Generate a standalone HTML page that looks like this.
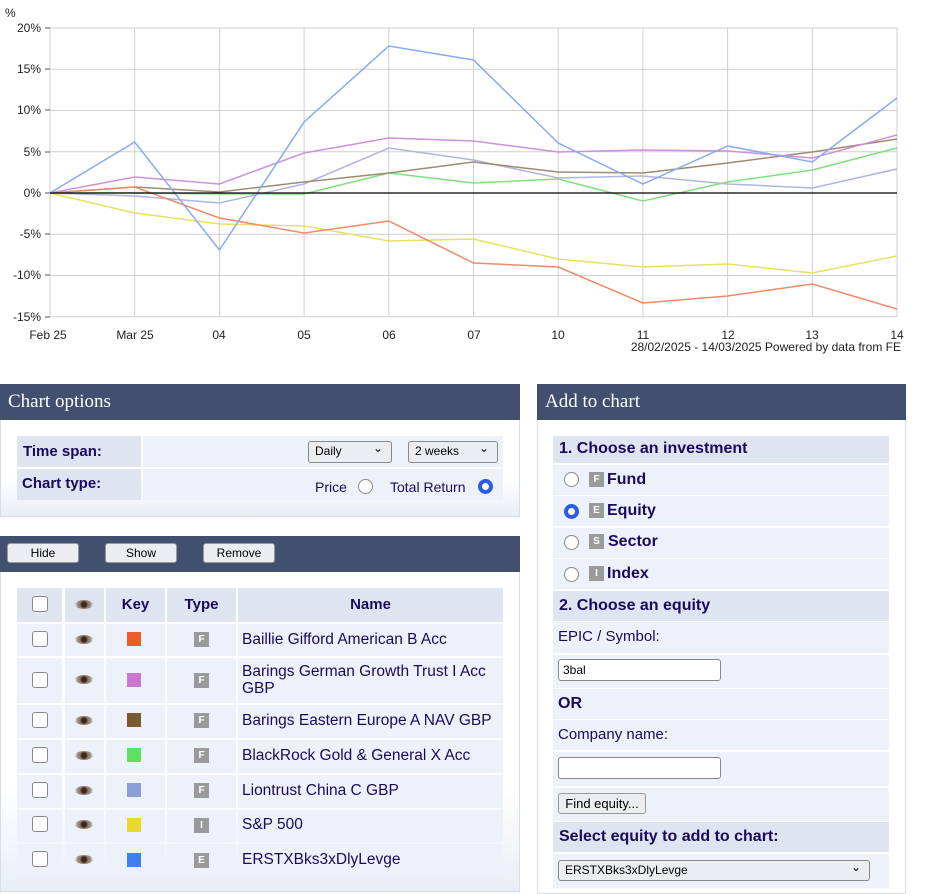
<!DOCTYPE html>
<html><head><meta charset="utf-8"><style>
*{box-sizing:border-box;margin:0;padding:0}
body{width:925px;height:894px;background:#fff;font-family:"Liberation Sans",Arial,sans-serif;position:relative;overflow:hidden;color:#1a0a5e}
.abs{position:absolute}
.hdr{position:absolute;background:#425070;color:#fff;font-family:"Liberation Serif",serif;font-size:19px;padding-left:8px;line-height:35px}
.panel{position:absolute;border:1px solid #d6deea;background:linear-gradient(#fff 70%,#e9eef6)}
.cell{position:absolute;background:#edf1f9}
.cellh{position:absolute;background:#dee5f1;font-weight:bold}
.btn{position:absolute;background:#ecedf0;border:1px solid #999;border-radius:3px;font-size:12px;color:#000;text-align:center;line-height:18px}
.cb{position:absolute;width:16px;height:16px;border:1px solid #888;border-radius:3px;background:#fff}
.eye{position:absolute;width:18px;height:9px;border-radius:50%;background:radial-gradient(circle,#3a2a20 25%,#a07860 40%,#888 60%,#ccc 80%)}
.ty{position:absolute;width:15px;height:15px;background:#9a9a9a;color:#fff;font-size:10px;font-weight:bold;text-align:center;line-height:15px}
.sw{position:absolute;width:14px;height:14px}
.nm{position:absolute;left:242px;font-size:15.5px;color:#1a0a5e;line-height:17px}
.radio{position:absolute;width:15px;height:15px;border:1px solid #888;border-radius:50%;background:#fff}
.radio.on{border:4px solid #2a5ee0}
.sel{position:absolute;background:#ecedf0;border:1px solid #888;border-radius:3px;font-size:12px;color:#000;padding-left:6px;line-height:19px}
.sel:after{content:"⌄";position:absolute;right:8px;top:-3px;font-size:12px}
.inp{position:absolute;background:#fff;border:1px solid #888;border-radius:3px;font-size:12px;color:#000;padding-left:4px;line-height:20px}
</style></head><body>
<svg class="abs" style="left:0;top:0" width="925" height="360" font-family="Liberation Sans,Arial,sans-serif" font-size="12" fill="#222">
<text x="5" y="17">%</text>
<g stroke="#cfcfcf" stroke-width="1">
<line x1="50" y1="28" x2="897" y2="28"/><line x1="50" y1="69.25" x2="897" y2="69.25"/><line x1="50" y1="110.5" x2="897" y2="110.5"/><line x1="50" y1="151.75" x2="897" y2="151.75"/><line x1="50" y1="234.25" x2="897" y2="234.25"/><line x1="50" y1="275.5" x2="897" y2="275.5"/><line x1="50" y1="316.75" x2="897" y2="316.75"/>
<line x1="50" y1="28" x2="50" y2="317"/><line x1="134.7" y1="28" x2="134.7" y2="317"/><line x1="219.4" y1="28" x2="219.4" y2="317"/><line x1="304.1" y1="28" x2="304.1" y2="317"/><line x1="388.8" y1="28" x2="388.8" y2="317"/><line x1="473.5" y1="28" x2="473.5" y2="317"/><line x1="558.2" y1="28" x2="558.2" y2="317"/><line x1="642.9" y1="28" x2="642.9" y2="317"/><line x1="727.6" y1="28" x2="727.6" y2="317"/><line x1="812.3" y1="28" x2="812.3" y2="317"/><line x1="897" y1="28" x2="897" y2="317"/>
</g>
<g stroke="#555"><line x1="45" y1="28" x2="50" y2="28"/><line x1="45" y1="69" x2="50" y2="69"/><line x1="45" y1="110" x2="50" y2="110"/><line x1="45" y1="152" x2="50" y2="152"/><line x1="45" y1="193" x2="50" y2="193"/><line x1="45" y1="234" x2="50" y2="234"/><line x1="45" y1="275" x2="50" y2="275"/><line x1="45" y1="317" x2="50" y2="317"/></g>
<g text-anchor="end"><text x="41" y="32">20%</text><text x="41" y="73">15%</text><text x="41" y="114">10%</text><text x="41" y="156">5%</text><text x="41" y="197">0%</text><text x="41" y="238">-5%</text><text x="41" y="279">-10%</text><text x="41" y="321">-15%</text></g>
<g text-anchor="middle"><text x="48" y="339">Feb 25</text><text x="135" y="339">Mar 25</text><text x="219" y="339">04</text><text x="304" y="339">05</text><text x="389" y="339">06</text><text x="474" y="339">07</text><text x="558" y="339">10</text><text x="643" y="339">11</text><text x="728" y="339">12</text><text x="812" y="339">13</text><text x="897" y="339">14</text></g>
<text x="901" y="351" text-anchor="end" font-size="12">28/02/2025 - 14/03/2025 Powered by data from FE</text>
<g fill="none" stroke-width="1.5">
<polyline stroke="#e8e060" points="50,193 134.7,213 219.4,224 304.1,226 388.8,241 473.5,239 558.2,259 642.9,267 727.6,264 812.3,273 897,256"/>
<polyline stroke="#80e080" points="50,193 134.7,193 219.4,194 304.1,194 388.8,173 473.5,183 558.2,179 642.9,201 727.6,182 812.3,170 897,148"/>
<polyline stroke="#b0b4e0" points="50,193 134.7,196 219.4,203 304.1,184 388.8,148 473.5,160 558.2,178 642.9,176 727.6,184 812.3,188 897,169"/>
<polyline stroke="#a08a70" points="50,193 134.7,187 219.4,192 304.1,182 388.8,173 473.5,162 558.2,172 642.9,173 727.6,163 812.3,152 897,139"/>
<polyline stroke="#f08a68" points="50,193 134.7,187 219.4,218 304.1,233 388.8,221 473.5,263 558.2,267 642.9,303 727.6,296 812.3,284 897,309"/>
<polyline stroke="#cc90dc" points="50,193 134.7,177 219.4,184 304.1,153 388.8,138 473.5,141 558.2,152 642.9,150 727.6,151 812.3,158 897,135"/>
<polyline stroke="#88aaf0" points="50,193 134.7,142 219.4,250 304.1,122 388.8,46 473.5,60 558.2,143 642.9,184 727.6,146 812.3,162 897,98"/>
</g>
<line x1="50" y1="193" x2="897" y2="193" stroke="#000" stroke-width="1.2"/>
</svg>

<!-- Chart options -->
<div class="panel" style="left:0;top:384px;width:520px;height:133px"></div>
<div class="hdr" style="left:0;top:384px;width:520px;height:36px">Chart options</div>
<div class="cellh" style="left:17px;top:436px;width:124px;height:31px;font-size:15px;padding:7px 6px">Time span:</div>
<div class="cell" style="left:143px;top:436px;width:360px;height:31px"></div>
<div class="cellh" style="left:17px;top:469px;width:124px;height:31px;font-size:15px;padding:6px 5px">Chart type:</div>
<div class="cell" style="left:143px;top:469px;width:360px;height:31px"></div>
<div class="sel" style="left:308px;top:441px;width:84px;height:22px">Daily</div>
<div class="sel" style="left:408px;top:441px;width:90px;height:22px">2 weeks</div>
<div class="abs" style="left:315px;top:479px;font-size:14px">Price</div>
<div class="radio" style="left:358px;top:479px"></div>
<div class="abs" style="left:390px;top:479px;font-size:14px">Total Return</div>
<div class="radio on" style="left:478px;top:479px"></div>

<!-- List panel -->
<div class="panel" style="left:0;top:536px;width:520px;height:356px"></div>
<div class="hdr" style="left:0;top:536px;width:520px;height:36px"></div>
<div class="btn" style="left:7px;top:543px;width:72px;height:20px">Hide</div>
<div class="btn" style="left:105px;top:543px;width:72px;height:20px">Show</div>
<div class="btn" style="left:203px;top:543px;width:72px;height:20px">Remove</div>
<div class="cellh" style="left:17px;top:588px;width:45px;height:34px"></div><div class="cb" style="left:32px;top:596px"></div>
<div class="cellh" style="left:65px;top:588px;width:39px;height:34px"></div><div class="eye" style="left:75px;top:600px"></div>
<div class="cellh" style="left:106px;top:588px;width:59px;height:34px;font-size:15px;text-align:center;line-height:34px">Key</div>
<div class="cellh" style="left:167px;top:588px;width:69px;height:34px;font-size:15px;text-align:center;line-height:34px">Type</div>
<div class="cellh" style="left:238px;top:588px;width:265px;height:34px;font-size:15px;text-align:center;line-height:34px">Name</div>

<div id="rows"></div>
<script></script>
<!-- rows -->
<div class="cell" style="left:17px;top:624px;width:45px;height:32px"></div><div class="cell" style="left:65px;top:624px;width:39px;height:32px"></div><div class="cell" style="left:106px;top:624px;width:59px;height:32px"></div><div class="cell" style="left:167px;top:624px;width:69px;height:32px"></div><div class="cell" style="left:238px;top:624px;width:265px;height:32px"></div>
<div class="cb" style="left:32px;top:631px"></div><div class="eye" style="left:75px;top:635px"></div><div class="sw" style="left:127px;top:632px;background:#ef5a2a"></div><div class="ty" style="left:194px;top:632px">F</div><div class="nm" style="top:631px">Baillie Gifford American B Acc</div>

<div class="cell" style="left:17px;top:658px;width:45px;height:45px"></div><div class="cell" style="left:65px;top:658px;width:39px;height:45px"></div><div class="cell" style="left:106px;top:658px;width:59px;height:45px"></div><div class="cell" style="left:167px;top:658px;width:69px;height:45px"></div><div class="cell" style="left:238px;top:658px;width:265px;height:45px"></div>
<div class="cb" style="left:32px;top:672px"></div><div class="eye" style="left:75px;top:675px"></div><div class="sw" style="left:127px;top:673px;background:#c878d0"></div><div class="ty" style="left:194px;top:673px">F</div><div class="nm" style="top:663px">Barings German Growth Trust I Acc<br>GBP</div>

<div class="cell" style="left:17px;top:705px;width:45px;height:33px"></div><div class="cell" style="left:65px;top:705px;width:39px;height:33px"></div><div class="cell" style="left:106px;top:705px;width:59px;height:33px"></div><div class="cell" style="left:167px;top:705px;width:69px;height:33px"></div><div class="cell" style="left:238px;top:705px;width:265px;height:33px"></div>
<div class="cb" style="left:32px;top:712px"></div><div class="eye" style="left:75px;top:716px"></div><div class="sw" style="left:127px;top:713px;background:#7a5a2e"></div><div class="ty" style="left:194px;top:713px">F</div><div class="nm" style="top:712px">Barings Eastern Europe A NAV GBP</div>

<div class="cell" style="left:17px;top:740px;width:45px;height:33px"></div><div class="cell" style="left:65px;top:740px;width:39px;height:33px"></div><div class="cell" style="left:106px;top:740px;width:59px;height:33px"></div><div class="cell" style="left:167px;top:740px;width:69px;height:33px"></div><div class="cell" style="left:238px;top:740px;width:265px;height:33px"></div>
<div class="cb" style="left:32px;top:747px"></div><div class="eye" style="left:75px;top:751px"></div><div class="sw" style="left:127px;top:748px;background:#60e060"></div><div class="ty" style="left:194px;top:748px">F</div><div class="nm" style="top:747px">BlackRock Gold &amp; General X Acc</div>

<div class="cell" style="left:17px;top:775px;width:45px;height:33px"></div><div class="cell" style="left:65px;top:775px;width:39px;height:33px"></div><div class="cell" style="left:106px;top:775px;width:59px;height:33px"></div><div class="cell" style="left:167px;top:775px;width:69px;height:33px"></div><div class="cell" style="left:238px;top:775px;width:265px;height:33px"></div>
<div class="cb" style="left:32px;top:782px"></div><div class="eye" style="left:75px;top:786px"></div><div class="sw" style="left:127px;top:783px;background:#8c9ed6"></div><div class="ty" style="left:194px;top:783px">F</div><div class="nm" style="top:782px">Liontrust China C GBP</div>

<div class="cell" style="left:17px;top:810px;width:45px;height:32px"></div><div class="cell" style="left:65px;top:810px;width:39px;height:32px"></div><div class="cell" style="left:106px;top:810px;width:59px;height:32px"></div><div class="cell" style="left:167px;top:810px;width:69px;height:32px"></div><div class="cell" style="left:238px;top:810px;width:265px;height:32px"></div>
<div class="cb" style="left:32px;top:816px"></div><div class="eye" style="left:75px;top:820px"></div><div class="sw" style="left:127px;top:818px;background:#e8d830"></div><div class="ty" style="left:194px;top:818px">I</div><div class="nm" style="top:816px">S&amp;P 500</div>

<div class="cell" style="left:17px;top:844px;width:45px;height:33px"></div><div class="cell" style="left:65px;top:844px;width:39px;height:33px"></div><div class="cell" style="left:106px;top:844px;width:59px;height:33px"></div><div class="cell" style="left:167px;top:844px;width:69px;height:33px"></div><div class="cell" style="left:238px;top:844px;width:265px;height:33px"></div>
<div class="cb" style="left:32px;top:851px"></div><div class="eye" style="left:75px;top:855px"></div><div class="sw" style="left:127px;top:853px;background:#3d7ff0"></div><div class="ty" style="left:194px;top:853px">E</div><div class="nm" style="top:851px">ERSTXBks3xDlyLevge</div>

<!-- Add to chart -->
<div class="abs" style="left:537px;top:384px;width:369px;height:510px;border:1px solid #d6deea;background:#fff"></div>
<div class="hdr" style="left:537px;top:384px;width:369px;height:36px">Add to chart</div>
<div class="cellh" style="left:553px;top:436px;width:336px;height:27px;font-size:16px;padding:4px 6px">1. Choose an investment</div>
<div class="cell" style="left:553px;top:465px;width:336px;height:30px"></div>
<div class="cell" style="left:553px;top:496px;width:336px;height:30px"></div>
<div class="cell" style="left:553px;top:528px;width:336px;height:30px"></div>
<div class="cell" style="left:553px;top:559px;width:336px;height:30px"></div>
<div class="radio" style="left:564px;top:472px"></div><div class="ty" style="left:589px;top:472px">F</div><div class="abs" style="left:607px;top:471px;font-size:16px;font-weight:bold">Fund</div>
<div class="radio on" style="left:564px;top:504px"></div><div class="ty" style="left:589px;top:503px">E</div><div class="abs" style="left:607px;top:502px;font-size:16px;font-weight:bold">Equity</div>
<div class="radio" style="left:564px;top:535px"></div><div class="ty" style="left:589px;top:534px">S</div><div class="abs" style="left:608px;top:533px;font-size:16px;font-weight:bold">Sector</div>
<div class="radio" style="left:564px;top:567px"></div><div class="ty" style="left:589px;top:566px">I</div><div class="abs" style="left:607px;top:565px;font-size:16px;font-weight:bold">Index</div>
<div class="cellh" style="left:553px;top:591px;width:336px;height:30px;font-size:16px;padding:6px 6px">2. Choose an equity</div>
<div class="cell" style="left:553px;top:622px;width:336px;height:31px;font-size:15px;padding:6px 5px">EPIC / Symbol:</div>
<div class="cell" style="left:553px;top:655px;width:336px;height:33px"></div>
<div class="inp" style="left:558px;top:659px;width:163px;height:22px">3bal</div>
<div class="cell" style="left:553px;top:689px;width:336px;height:30px;font-size:16px;font-weight:bold;padding:6px 5px">OR</div>
<div class="cell" style="left:553px;top:720px;width:336px;height:30px;font-size:15px;padding:6px 5px">Company name:</div>
<div class="cell" style="left:553px;top:752px;width:336px;height:34px"></div>
<div class="inp" style="left:558px;top:757px;width:163px;height:22px"></div>
<div class="cell" style="left:553px;top:788px;width:336px;height:33px"></div>
<div class="btn" style="left:558px;top:793px;width:88px;height:21px;font-size:13px;line-height:19px">Find equity...</div>
<div class="cellh" style="left:553px;top:822px;width:336px;height:30px;font-size:16px;padding:6px 6px">Select equity to add to chart:</div>
<div class="cell" style="left:553px;top:854px;width:336px;height:34px"></div>
<div class="sel" style="left:558px;top:860px;width:312px;height:21px">ERSTXBks3xDlyLevge</div>
</body></html>
